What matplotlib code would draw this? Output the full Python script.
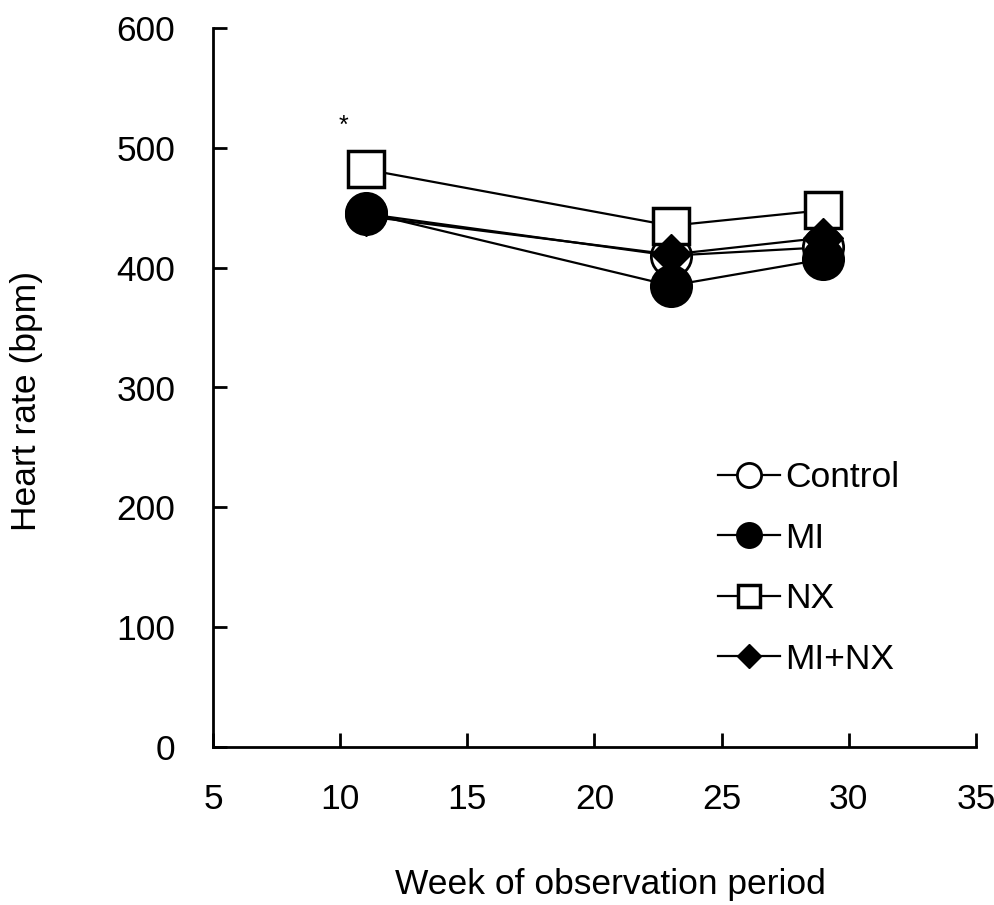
import matplotlib
matplotlib.use("Agg")
import matplotlib.pyplot as plt

weeks = [11, 23, 29]
control = [445, 410, 417]
mi = [446, 385, 407]
nx = [482, 435, 448]
mi_nx = [443, 411, 425]

x_ticks = [5, 10, 15, 20, 25, 30, 35]
y_ticks = [0, 100, 200, 300, 400, 500, 600]

plt.rcParams['font.family'] = ['Liberation Sans', 'DejaVu Sans']
FS = 25.5

fig = plt.figure(figsize=(9.95, 9.05), dpi=100)
ax = fig.add_axes([213/995, 1-747/905, (976-213)/995, (747-28)/905])

lw = 1.6
ax.plot(weeks, control, color='black', lw=lw, marker='o', ms=29, mfc='white', mec='black', mew=2, label='Control')
ax.plot(weeks, mi, color='black', lw=lw, marker='o', ms=29, mfc='black', mec='black', mew=2, label='MI')
ax.plot(weeks, nx, color='black', lw=lw, marker='s', ms=26.5, mfc='white', mec='black', mew=2.5, label='NX')
ax.plot(weeks, mi_nx, color='black', lw=lw, marker='D', ms=20, mfc='black', mec='black', mew=1, label='MI+NX')

ax.text(10.15, 518, '*', fontsize=18, ha='center', va='center')

ax.set_xlim(5, 35)
ax.set_ylim(0, 600)
ax.set_xticks(x_ticks)
ax.set_yticks(y_ticks)
ax.tick_params(direction='in', length=10, width=2, labelsize=FS)
ax.tick_params(axis='y', pad=27)
ax.tick_params(axis='x', pad=26)
for s in ['top', 'right']:
    ax.spines[s].set_visible(False)
for s in ['left', 'bottom']:
    ax.spines[s].set_linewidth(2)

ax.set_xlabel('Week of observation period', fontsize=FS)
ax.xaxis.set_label_coords((610-213)/(976-213), -(884-747)/(747-28))
ax.xaxis.label.set_va('center')
ax.set_ylabel('Heart rate (bpm)', fontsize=FS)
ax.yaxis.set_label_coords(-(213-26)/(976-213), (747-401)/(747-28))
ax.yaxis.label.set_va('center')

leg = ax.legend(loc='upper left', bbox_to_anchor=(718/995, 1-461/905), bbox_transform=fig.transFigure,
                frameon=False, fontsize=FS, markerscale=0.6, handlelength=1.75, handletextpad=0.15,
                labelspacing=0.78, borderpad=0, borderaxespad=0)

fig.savefig('out.png', dpi=100)
